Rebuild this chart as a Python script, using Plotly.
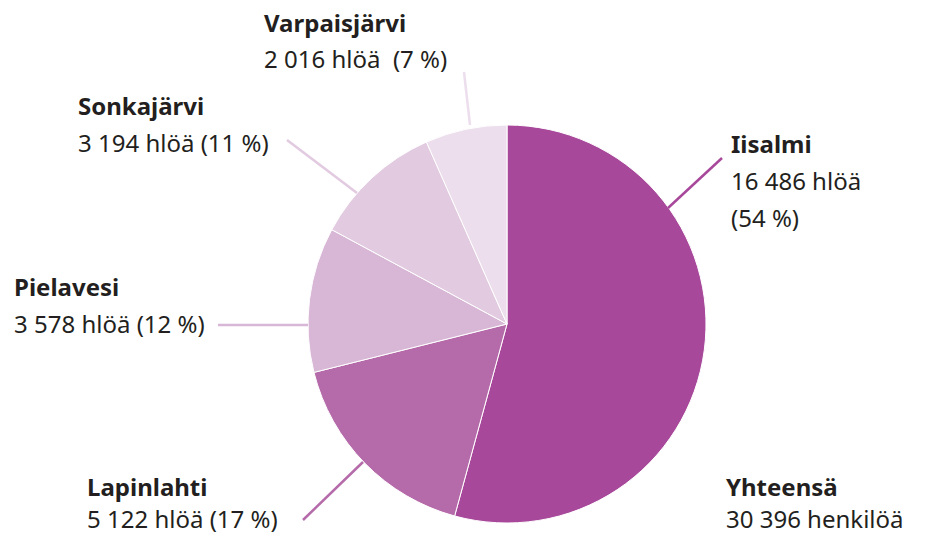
import plotly.graph_objects as go

W, H = 931, 535

municipalities = ["Iisalmi", "Lapinlahti", "Pielavesi", "Sonkajärvi", "Varpaisjärvi"]
populations = [16486, 5122, 3578, 3194, 2016]
shares = ["54 %", "17 %", "12 %", "11 %", "7 %"]
value_texts = ["16 486 hlöä", "5 122 hlöä", "3 578 hlöä", "3 194 hlöä", "2 016 hlöä"]
total_title = "Yhteensä"
total_text = "30 396 henkilöä"
colors = ["#a8489b", "#b56aaa", "#d8b6d6", "#e2cae1", "#ecdeec"]

FONT = "Noto Sans"
TXT = "#231f20"
FS = 24

cx, cy, r = 507, 324, 199


def px(x):
    return x / W


def py(y):
    return 1 - y / H


fig = go.Figure(go.Pie(
    labels=municipalities,
    values=populations,
    sort=False,
    direction="clockwise",
    rotation=0,
    textinfo="none",
    hoverinfo="label+value+percent",
    marker=dict(colors=colors, line=dict(color="white", width=1)),
    domain=dict(x=[px(cx - r), px(cx + r)], y=[py(cy + r), py(cy - r)]),
    showlegend=False,
))

label_specs = {
    "Varpaisjärvi": (262, 22, [f"{value_texts[4]}  ({shares[4]})"]),
    "Sonkajärvi": (76, 105, [f"{value_texts[3]} ({shares[3]})"]),
    "Pielavesi": (12, 286, [f"{value_texts[2]} ({shares[2]})"]),
    "Lapinlahti": (85, 486, [f"{value_texts[1]} ({shares[1]})"]),
    "Iisalmi": (729, 143, [value_texts[0], f"({shares[0]})"]),
}

annotations = []
LH = 37
for name, (x, y, lines) in label_specs.items():
    annotations.append(dict(x=px(x), y=py(y), xref="paper", yref="paper",
                            xanchor="left", yanchor="middle", showarrow=False,
                            text=f"<b>{name}</b>",
                            font=dict(family=FONT, size=FS, color=TXT)))
    for i, ln in enumerate(lines):
        yy = min(y + LH * (i + 1), 518)
        annotations.append(dict(x=px(x), y=py(yy), xref="paper", yref="paper",
                                xanchor="left", yanchor="middle", showarrow=False,
                                text=ln, font=dict(family=FONT, size=FS, color=TXT)))

annotations.append(dict(x=px(724), y=py(486), xref="paper", yref="paper",
                        xanchor="left", yanchor="middle", showarrow=False,
                        text=f"<b>{total_title}</b>",
                        font=dict(family=FONT, size=FS, color=TXT)))
annotations.append(dict(x=px(724), y=py(518), xref="paper", yref="paper",
                        xanchor="left", yanchor="middle", showarrow=False,
                        text=total_text,
                        font=dict(family=FONT, size=FS, color=TXT)))

leaders = [
    ((668, 208), (722, 158), colors[0]),
    ((363, 462), (303, 520), colors[1]),
    ((308, 325), (218, 325), colors[2]),
    ((357, 193), (287, 140), colors[3]),
    ((470, 125), (464, 72), colors[4]),
]
shapes = []
for (x0, y0), (x1, y1), c in leaders:
    shapes.append(dict(type="line", xref="paper", yref="paper",
                       x0=px(x0), y0=py(y0), x1=px(x1), y1=py(y1),
                       line=dict(color=c, width=2.5)))

fig.update_layout(
    width=W, height=H,
    margin=dict(l=0, r=0, t=0, b=0),
    paper_bgcolor="white", plot_bgcolor="white",
    annotations=annotations, shapes=shapes,
)

fig.write_html("out.html", config={"displayModeBar": False},
               post_script="document.body.style.margin='0';")
